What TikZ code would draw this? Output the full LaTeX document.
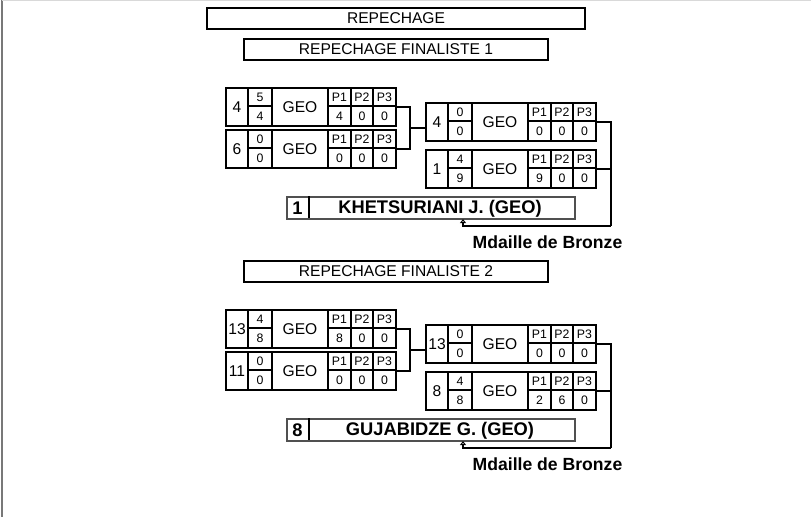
\documentclass[tikz,border=0pt]{standalone}
\usepackage{fontspec}
\setmainfont{Liberation Sans}
\usetikzlibrary{arrows.meta, positioning, calc}
\definecolor{framegray}{RGB}{120,120,120}
\definecolor{winnergray}{RGB}{80,80,80}
\newcommand{\bigf}{\fontsize{15.6}{18}\selectfont}
\newcommand{\smallf}{\fontsize{12.3}{14}\selectfont}
\newcommand{\boldf}{\fontsize{18.3}{21}\selectfont\bfseries}
\newcommand{\medalf}{\fontsize{17.6}{20}\selectfont\bfseries}

% one bout line: name, x, y (top), seed, score up, score down, P1, P2, P3
\newcommand{\bout}[9]{%
  \begin{scope}[shift={(#2,#3)}]
    \node[boutbox, anchor=north west] (#1) at (0,0) {};
    \draw[grid] (22,0) -- (22,38) (46,0) -- (46,38) (102,0) -- (102,38)
      (125,0) -- (125,38) (147,0) -- (147,38)
      (22,18) -- (46,18) (102,18) -- (170,18);
    \node[font=\bigf] (#1-seed) at (11,19) {#4};
    \node[font=\smallf] (#1-su) at (34,9.5) {#5};
    \node[font=\smallf] (#1-sd) at (34,28.5) {#6};
    \node[font=\bigf] (#1-nat) at (74,19) {GEO};
    \node[font=\smallf] (#1-h1) at (113.5,9.5) {P1};
    \node[font=\smallf] (#1-h2) at (136,9.5) {P2};
    \node[font=\smallf] (#1-h3) at (158.5,9.5) {P3};
    \node[font=\smallf] (#1-p1) at (113.5,28.5) {#7};
    \node[font=\smallf] (#1-p2) at (136,28.5) {#8};
    \node[font=\smallf] (#1-p3) at (158.5,28.5) {#9};
    \coordinate (#1-out) at (170,19);
  \end{scope}}

\begin{document}
\begin{tikzpicture}[
    x=1pt, y=-1pt,
    titlebox/.style={rectangle, draw, line width=2pt, inner sep=0pt,
                     minimum height=21pt, font=\bigf},
    boutbox/.style={rectangle, draw, line width=1.3pt, inner sep=0pt, outer sep=0pt,
                    minimum width=170pt, minimum height=38pt},
    grid/.style={line width=1.2pt},
    winbox/.style={rectangle, draw=winnergray, line width=1.6pt, inner sep=0pt,
                   minimum width=288pt, minimum height=22pt},
    link/.style={line width=1.2pt},
    medal/.style={{Triangle[open, length=4pt, width=6pt]}-, line width=1.1pt},
]
    \useasboundingbox (0,0) rectangle (811,517);
    % page frame
    \draw[framegray, line width=1.5pt] (2,0) -- (2,517);
    \draw[black!15, line width=0.8pt] (2,0.4) -- (811,0.4);

    % titles
    \node[titlebox, minimum width=378pt] (rep) at (396,18.5) {REPECHAGE};
    \node[titlebox, minimum width=304pt] (fin1) at (396,49) {REPECHAGE FINALISTE 1};
    \node[titlebox, minimum width=304pt] (fin2) at (396,271) {REPECHAGE FINALISTE 2};

    % finaliste 1
    \bout{a1}{226}{88}{4}{5}{4}{4}{0}{0}
    \bout{a2}{226}{130}{6}{0}{0}{0}{0}{0}
    \bout{b1}{426}{103}{4}{0}{0}{0}{0}{0}
    \bout{b2}{426}{150}{1}{4}{9}{9}{0}{0}
    \coordinate (j1) at (410,128);
    \coordinate (k1) at (611,226);
    \draw[link] (a1-out) -| (j1) |- (a2-out);
    \draw[link] (j1) -- (j1 -| b1.west);
    \draw[link] (b1-out) -| (k1);
    \draw[link] (b2-out) -- (b2-out -| k1);

    \node[winbox, anchor=north west] (w1) at (286,196) {};
    \draw[line width=1.2pt] (309,196) -- (309,218);
    \node[font=\boldf] (w1-rank) at (297.5,208) {1};
    \node[font=\boldf] (w1-name) at (440,208.5) {KHETSURIANI J. (GEO)};
    \draw[medal] ($(w1.south west)+(177,-0.5)$) |- (k1);
    \node[font=\medalf] (m1) at (547.5,242) {Mdaille de Bronze};

    % finaliste 2
    \bout{c1}{226}{310}{13}{4}{8}{8}{0}{0}
    \bout{c2}{226}{352}{11}{0}{0}{0}{0}{0}
    \bout{d1}{426}{325}{13}{0}{0}{0}{0}{0}
    \bout{d2}{426}{372}{8}{4}{8}{2}{6}{0}
    \coordinate (j2) at (410,350);
    \coordinate (k2) at (611,448);
    \draw[link] (c1-out) -| (j2) |- (c2-out);
    \draw[link] (j2) -- (j2 -| d1.west);
    \draw[link] (d1-out) -| (k2);
    \draw[link] (d2-out) -- (d2-out -| k2);

    \node[winbox, anchor=north west] (w2) at (286,418) {};
    \draw[line width=1.2pt] (309,418) -- (309,440);
    \node[font=\boldf] (w2-rank) at (297.5,430) {8};
    \node[font=\boldf] (w2-name) at (440,430.5) {GUJABIDZE G. (GEO)};
    \draw[medal] ($(w2.south west)+(177,-0.5)$) |- (k2);
    \node[font=\medalf] (m2) at (547.5,464) {Mdaille de Bronze};
\end{tikzpicture}
\end{document}
